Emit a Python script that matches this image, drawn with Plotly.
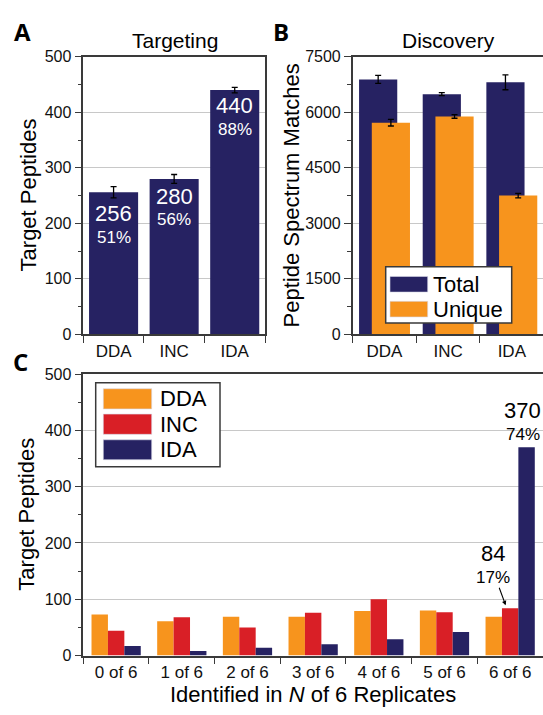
import plotly.graph_objects as go

# ---- data -------------------------------------------------------------
methods = ["DDA", "INC", "IDA"]
total_targets = 500

# Panel A: targeted peptides found per method
targeted = [256, 280, 440]
targeted_err = [10, 8, 5]

# Panel B: peptide spectrum matches
psm_total = [6890, 6490, 6810]
psm_total_err = [110, 40, 200]
psm_unique = [5720, 5890, 3750]
psm_unique_err = [90, 50, 60]

# Panel C: reproducibility across 6 replicates
replicate_labels = ["0 of 6", "1 of 6", "2 of 6", "3 of 6", "4 of 6", "5 of 6", "6 of 6"]
repro_dda = [73, 61, 69, 69, 79, 80, 69]
repro_inc = [44, 68, 50, 76, 100, 77, 84]
repro_ida = [17, 8, 14, 20, 29, 42, 370]

# ---- styling ----------------------------------------------------------
NAVY = "#262262"
ORANGE = "#F7941D"
RED = "#D91F26"
AXIS = "#3a3a3a"
GRID = "#c8c8c8"
FONT = "Liberation Sans, Arial, sans-serif"
W, H = 543, 715


def fx(px):
    return px / W


def fy(py):
    return 1 - py / H


def pct(v):
    return f"{round(100 * v / total_targets)}%"


fig = go.Figure()

err_style = dict(type="data", color="black", thickness=1.3, width=3)

# Panel A
fig.add_trace(go.Bar(
    x=methods, y=targeted, width=0.81, marker=dict(color=NAVY, line=dict(width=0)),
    error_y=dict(array=targeted_err, **err_style),
    xaxis="x", yaxis="y", showlegend=False,
))

# Panel B: overlapping Total / Unique bars
fig.add_trace(go.Bar(
    x=methods, y=psm_total, width=0.6, offset=-0.4,
    marker=dict(color=NAVY, line=dict(width=0)),
    error_y=dict(array=psm_total_err, **err_style),
    xaxis="x2", yaxis="y2", showlegend=False,
))
fig.add_trace(go.Bar(
    x=methods, y=psm_unique, width=0.6, offset=-0.2,
    marker=dict(color=ORANGE, line=dict(width=0)),
    error_y=dict(array=psm_unique_err, **err_style),
    xaxis="x2", yaxis="y2", showlegend=False,
))

# Panel C: grouped bars
for vals, col in [(repro_dda, ORANGE), (repro_inc, RED), (repro_ida, NAVY)]:
    fig.add_trace(go.Bar(
        x=replicate_labels, y=vals, marker=dict(color=col, line=dict(width=0)),
        xaxis="x3", yaxis="y3", showlegend=False,
    ))

xcommon = dict(
    type="category", tickson="boundaries", ticks="outside", ticklen=7, tickwidth=1.3,
    tickcolor=AXIS, showline=True, linecolor=AXIS, linewidth=1.5, mirror=True,
    showgrid=False, tickfont=dict(family=FONT, size=17, color="#111"),
)
ycommon = dict(
    ticks="outside", ticklen=7, tickwidth=1.3, tickcolor=AXIS, showline=True,
    linecolor=AXIS, linewidth=1.5, showgrid=True, gridcolor=GRID, gridwidth=1,
    zeroline=False, tickfont=dict(family=FONT, size=16, color="#111"),
)

fig.update_layout(
    width=W, height=H, margin=dict(l=0, r=0, t=0, b=0),
    paper_bgcolor="white", plot_bgcolor="white",
    barmode="group", bargap=0.25, bargroupgap=0,
    xaxis=dict(domain=[fx(83.3), fx(265)], anchor="y", range=[-0.5, 2.5], **xcommon),
    yaxis=dict(domain=[fy(334.3), fy(50)], anchor="x", range=[0, 500], dtick=100, mirror=True,
               minor=dict(ticks="outside", ticklen=4, dtick=50, tickcolor=AXIS, showgrid=False),
               **ycommon),
    xaxis2=dict(domain=[fx(352.7), 1.0], anchor="y2", range=[-0.5, 2.49], **xcommon),
    yaxis2=dict(domain=[fy(334.3), fy(50)], anchor="x2", range=[0, 7500], dtick=1500,
                minor=dict(ticks="outside", ticklen=4, dtick=750, tickcolor=AXIS, showgrid=False),
                **ycommon),
    xaxis3=dict(domain=[fx(83.3), 1.0], anchor="y3", range=[-0.5, 6.5], **xcommon),
    yaxis3=dict(domain=[fy(663.3), fy(375)], anchor="x3", range=[0, 500], dtick=100,
                minor=dict(ticks="outside", ticklen=4, dtick=50, tickcolor=AXIS, showgrid=False),
                **ycommon),
)

ann = []


def txt(text, x, y, size, **kw):
    d = dict(text=text, x=fx(x), y=fy(y), xref="paper", yref="paper", showarrow=False,
             font=dict(family=FONT, size=size, color=kw.pop("color", "black")),
             xanchor="center", yanchor="middle")
    d.update(kw)
    ann.append(d)


# panel letters
for letter, x, y in [("A", 22, 24), ("B", 281, 24), ("C", 20, 362)]:
    ann.append(dict(text=f"<b>{letter}</b>", x=fx(x), y=fy(y), xref="paper", yref="paper",
                    showarrow=False, xanchor="center", yanchor="middle",
                    font=dict(family="Open Sans, DejaVu Sans, sans-serif", size=24, color="black")))

# panel titles and axis titles
txt("Targeting", 175, 33, 21)
txt("Discovery", 448, 33, 21)
txt("Target Peptides", 28, 192, 22, textangle=-90)
txt("Peptide Spectrum Matches", 291, 192, 22, textangle=-90)
txt("Target Peptides", 27, 519, 22, textangle=-90)
txt("Identified in <i>N</i> of 6 Replicates", 313, 703, 22)

# values written inside the panel A bars
num_shift = [-21, -18, -15]
pct_shift = [-45, -41, -39]
for i, v in enumerate(targeted):
    ann.append(dict(text=str(v), x=i, y=v, xref="x", yref="y", yshift=num_shift[i],
                    showarrow=False, yanchor="middle",
                    font=dict(family=FONT, size=22, color="white")))
    ann.append(dict(text=pct(v), x=i, y=v, xref="x", yref="y", yshift=pct_shift[i],
                    showarrow=False, yanchor="middle",
                    font=dict(family=FONT, size=17, color="white")))

# panel C call-outs on the 6 of 6 group
last = len(replicate_labels) - 1
ida_top = repro_ida[last]
inc_top = repro_inc[last]
ann.append(dict(text=str(ida_top), x=last + 0.25, y=ida_top, xref="x3", yref="y3",
                xshift=-4, yshift=37, showarrow=False, yanchor="middle",
                font=dict(family=FONT, size=22, color="black")))
ann.append(dict(text=pct(ida_top), x=last + 0.25, y=ida_top, xref="x3", yref="y3",
                xshift=-4, yshift=13, showarrow=False, yanchor="middle",
                font=dict(family=FONT, size=17, color="black")))
ann.append(dict(text=str(inc_top), x=last, y=inc_top, xref="x3", yref="y3",
                xshift=-17, yshift=55, showarrow=False, yanchor="middle",
                font=dict(family=FONT, size=22, color="black")))
ann.append(dict(text=pct(inc_top), x=last, y=inc_top, xref="x3", yref="y3",
                xshift=-17, yshift=31, showarrow=False, yanchor="middle",
                font=dict(family=FONT, size=17, color="black")))
ann.append(dict(text="", x=last, y=inc_top, xref="x3", yref="y3", xshift=-4.5, yshift=3,
                showarrow=True, arrowhead=2, arrowsize=0.8, arrowwidth=1.1, arrowcolor="black",
                ax=-7, ay=-19, standoff=0))

shapes = []


def legend_box(x0, y0, x1, y1, items, sw_x0, sw_x1, text_x, size):
    shapes.append(dict(type="rect", xref="paper", yref="paper", x0=fx(x0), x1=fx(x1),
                       y0=fy(y1), y1=fy(y0), fillcolor="white",
                       line=dict(color=AXIS, width=1.5), layer="above"))
    for label, col, ya, yb in items:
        shapes.append(dict(type="rect", xref="paper", yref="paper", x0=fx(sw_x0), x1=fx(sw_x1),
                           y0=fy(yb), y1=fy(ya), fillcolor=col,
                           line=dict(color="#d8d8e8", width=0.6), layer="above"))
        ann.append(dict(text=label, x=fx(text_x), y=fy((ya + yb) / 2), xref="paper", yref="paper",
                        showarrow=False, xanchor="left", yanchor="middle",
                        font=dict(family=FONT, size=size, color="black")))


legend_box(385.7, 265, 511.7, 322.7,
           [("Total", NAVY, 275, 291), ("Unique", ORANGE, 300.5, 316.5)],
           390, 427.7, 431, 22)
legend_box(95.7, 384, 220, 470,
           [("DDA", ORANGE, 390, 410.7), ("INC", RED, 416, 436.7), ("IDA", NAVY, 442.3, 462.7)],
           103.3, 151.7, 158, 22)

fig.update_layout(annotations=ann, shapes=shapes)

fig.write_html("out.html")
